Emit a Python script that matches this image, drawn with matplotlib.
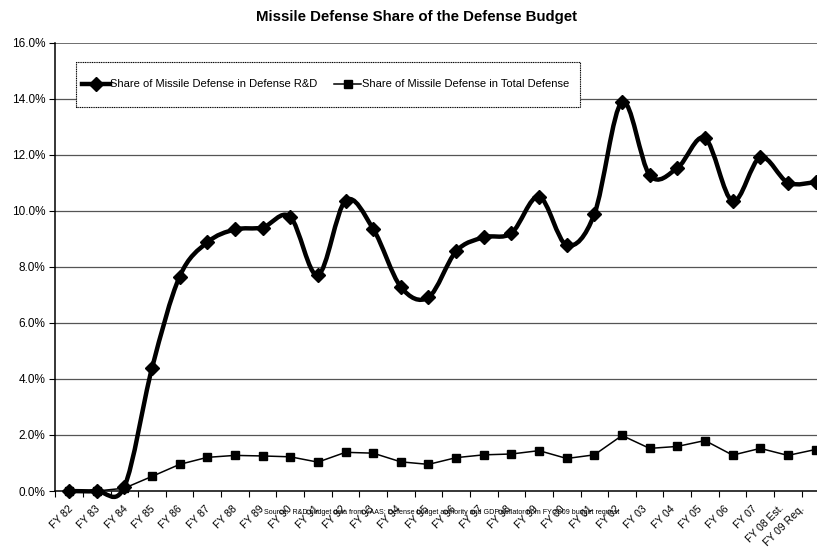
import numpy as np
import matplotlib
matplotlib.use("Agg")
import matplotlib.pyplot as plt
import matplotlib.transforms as mtransforms
from matplotlib.path import Path
from matplotlib.patches import PathPatch, Rectangle
from matplotlib.lines import Line2D
from matplotlib.ticker import FixedLocator, FuncFormatter

plt.rcParams['font.family'] = ['Liberation Sans', 'DejaVu Sans']

categories = ["FY 82", "FY 83", "FY 84", "FY 85", "FY 86", "FY 87", "FY 88", "FY 89",
              "FY 90", "FY 91", "FY 92", "FY 93", "FY 94", "FY 95", "FY 96", "FY 97",
              "FY 98", "FY 99", "FY 00", "FY 01", "FY 02", "FY 03", "FY 04", "FY 05",
              "FY 06", "FY 07", "FY 08 Est.", "FY 09 Req."]
share_rd = [0.0, 0.0, 0.15, 4.38, 7.65, 8.87, 9.33, 9.40, 9.78, 7.70, 10.36, 9.35,
            7.28, 6.91, 8.55, 9.05, 9.20, 10.50, 8.77, 9.88, 13.88, 11.27, 11.52,
            12.59, 10.34, 11.90, 11.00, 11.02]
share_total = [0.0, 0.0, 0.10, 0.52, 0.95, 1.20, 1.27, 1.25, 1.22, 1.03, 1.38, 1.35,
               1.04, 0.95, 1.19, 1.29, 1.32, 1.44, 1.16, 1.29, 1.98, 1.52, 1.59,
               1.80, 1.28, 1.52, 1.27, 1.48]
yticks = [0, 2, 4, 6, 8, 10, 12, 14, 16]

title = "Missile Defense Share of the Defense Budget"
label_rd = "Share of Missile Defense in Defense R&D"
label_total = "Share of Missile Defense in Total Defense"
source = ("Source:  R&D budget data from AAAS; Defense budget authority and GDP deflator "
          "from FY 2009 budget request")

W, H = 817, 550
fig = plt.figure(figsize=(W / 100, H / 100), dpi=100)
left_px, right_px, top_px, bot_px = 55.2, 829.4, 42.5, 491.0
ax = fig.add_axes([left_px / W, 1 - bot_px / H, (right_px - left_px) / W,
                   (bot_px - top_px) / H])

n = len(categories)
x = np.arange(n)
ax.set_xlim(-0.5, n - 0.5)
ax.set_ylim(0, 16)

# gridlines
for yt in yticks[1:]:
    ax.axhline(yt, color='#555555', lw=1.2 if yt == 16 else 0.9, zorder=1)

# smoothed R&D line (Bezier through the points, Excel-style smoothing)
pts = np.column_stack([x, share_rd]).astype(float)
verts = [pts[0]]
codes = [Path.MOVETO]
for i in range(n - 1):
    p0 = pts[i - 1] if i > 0 else pts[i]
    p1 = pts[i]
    p2 = pts[i + 1]
    p3 = pts[i + 2] if i + 2 < n else pts[i + 1]
    c1 = p1 + (p2 - p0) / 6.0
    c2 = p2 - (p3 - p1) / 6.0
    verts += [c1, c2, p2]
    codes += [Path.CURVE4] * 3
patch = PathPatch(Path(verts, codes), facecolor='none', edgecolor='black', lw=3.2,
                  zorder=3, capstyle='round', joinstyle='round', clip_on=False)
ax.add_patch(patch)
ax.plot(x, share_rd, linestyle='none', marker='D', ms=7.5, color='black', zorder=4,
        clip_on=False)

# total defense line
ax.plot(x, share_total, '-', color='black', lw=1.1, marker='s', ms=6, zorder=3,
        clip_on=False)

# axes styling
for s in ['top', 'right']:
    ax.spines[s].set_visible(False)
ax.spines['left'].set_linewidth(1.1)
ax.spines['bottom'].set_linewidth(1.1)

ax.yaxis.set_major_locator(FixedLocator(yticks))
ax.yaxis.set_major_formatter(FuncFormatter(lambda v, p: f"{v:.1f}%"))
ax.tick_params(axis='y', direction='out', length=4, width=0.8, labelsize=8.5, pad=3)

ax.set_xticks(x)
ax.set_xticklabels(categories, rotation=45, ha='right', va='top',
                   rotation_mode='anchor', fontsize=7.6)
ax.tick_params(axis='x', which='major', length=0, pad=9)
ax.xaxis.set_minor_locator(FixedLocator(np.arange(-0.5, n, 1.0)))
ax.tick_params(axis='x', which='minor', direction='out', length=4, width=0.8)
offsets = list(np.linspace(-1, -9, n - 1)) + [-16]
for lab, off in zip(ax.get_xticklabels(), offsets):
    lab.set_transform(lab.get_transform() +
                      mtransforms.ScaledTranslation(off / 100, 0, fig.dpi_scale_trans))

# legend (frame drawn separately)
h1 = Line2D([], [], color='black', lw=3.2, marker='D', ms=7)
h2 = Line2D([], [], color='black', lw=1.1, marker='s', ms=6)
leg = fig.legend([h1, h2], [label_rd, label_total], ncol=2, loc='center left',
                 bbox_to_anchor=(82 / W, 1 - 84.5 / H), borderaxespad=0, borderpad=0,
                 fontsize=8, frameon=False, handlelength=2.5, handletextpad=0.05,
                 columnspacing=1.45)
frame = Rectangle((76 / W, 1 - 107 / H), (580 - 76) / W, 45 / H,
                  transform=fig.transFigure, facecolor='white', edgecolor='black',
                  lw=0.8, linestyle=(0, (1, 0.6)), zorder=5)
fig.patches.append(frame)

fig.text(416.5 / W, 1 - 17 / H, title, ha='center', va='center', fontsize=10.8,
         fontweight='bold')
fig.text(442 / W, 1 - 513 / H, source, ha='center', va='center', fontsize=5.1)

fig.savefig("out.png", dpi=100)
